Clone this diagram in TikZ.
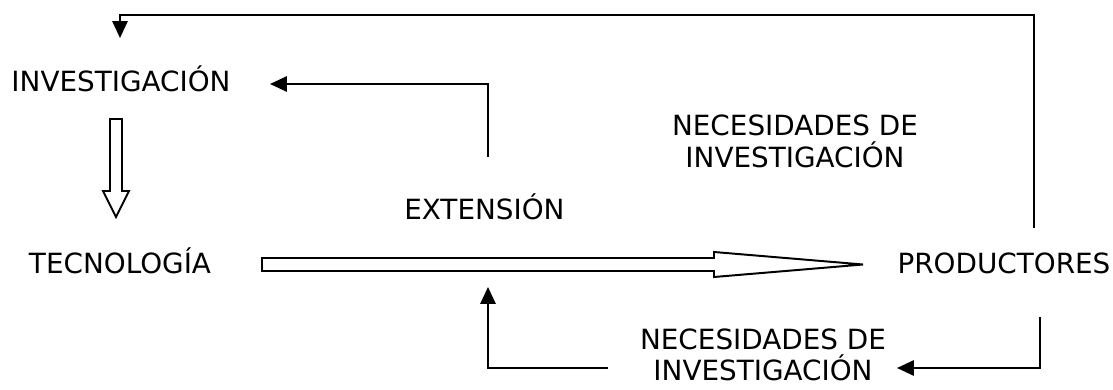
\documentclass[tikz,border=0pt]{standalone}
\usepackage{fontspec}
\setmainfont{DejaVu Sans}
\usetikzlibrary{arrows.meta,positioning,calc}

\begin{document}
\begin{tikzpicture}[x=1cm,y=1cm,
  lbl/.style={font=\fontsize{19.8}{22.6}\selectfont,inner sep=0pt},
  conn/.style={line width=1.4pt,-{Triangle[length=0.42cm,width=0.38cm]}},
  hollow/.style={draw,line width=1.4pt,fill=white}]
\useasboundingbox (0,0) rectangle (27.825,9.725);
\node[lbl,anchor=base] (inv) at (3.025,7.425) {INVESTIGACIÓN};
\node[lbl,anchor=base] (tec) at (3.0,2.875) {TECNOLOGÍA};
\node[lbl,anchor=base] (ext) at (12.11,4.225) {EXTENSIÓN};
\node[lbl,anchor=base] (prod) at (25.1,2.875) {PRODUCTORES};
\node[lbl,anchor=north,align=center] (necup) at (19.875,6.85) {NECESIDADES DE\\INVESTIGACIÓN};
\node[lbl,anchor=north,align=center] (neclow) at (19.075,1.52) {NECESIDADES DE\\INVESTIGACIÓN};
% free ends of the feedback lines
\coordinate (prodtop) at (25.85,4.025);
\coordinate (invtop) at (3.0,8.775);
\coordinate (extup) at (12.2,5.8);
\coordinate (invright) at (6.75,7.625);
\coordinate (prodlow) at (26.0,1.8);
\coordinate (neclowright) at (22.425,0.525);
\coordinate (neclowleft) at (15.2,0.525);
\coordinate (extlow) at (12.2,2.55);
\draw[conn] (prodtop) |- (3.0,9.35) -- (invtop);
\draw[conn] (extup) |- (invright);
\draw[conn] (prodlow) |- (neclowright);
\draw[conn] (neclowleft) -| (extlow);
% block arrows
\draw[hollow] (2.75,6.75) -- (3.05,6.75) -- (3.05,4.95) -- (3.225,4.95) -- (2.9,4.3) -- (2.575,4.95) -- (2.75,4.95) -- cycle;
\draw[hollow] (6.55,3.275) -- (17.85,3.275) -- (17.85,3.425) -- (21.575,3.1125) -- (17.85,2.8) -- (17.85,2.95) -- (6.55,2.95) -- cycle;
\end{tikzpicture}
\end{document}
